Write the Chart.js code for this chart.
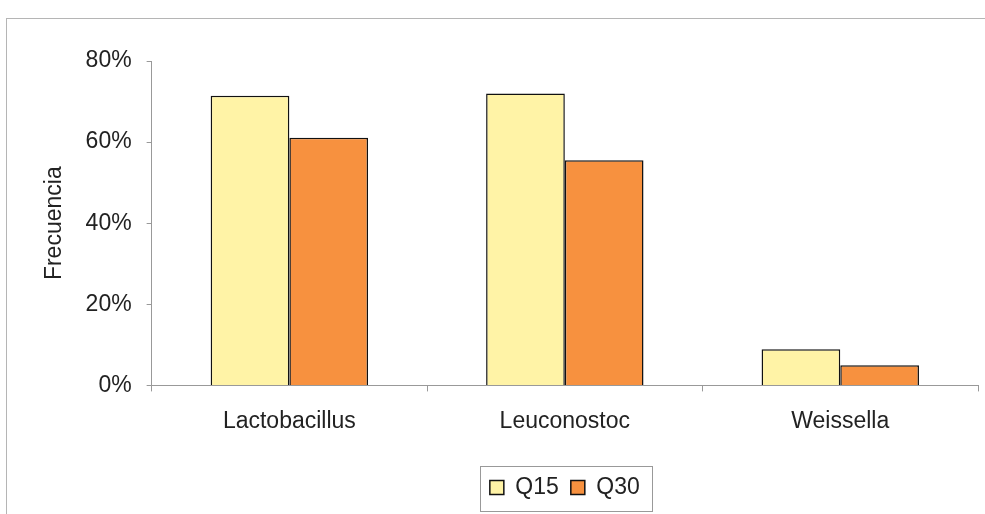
<!DOCTYPE html>
<html>
<head>
<meta charset="utf-8">
<script src="https://cdn.jsdelivr.net/npm/chart.js@4"></script>
<style>
  body { margin: 0; background: #fff; }
  #wrap { width: 985px; height: 514px; }
</style>
</head>
<body>
<div id="wrap"><canvas id="myChart" width="985" height="514"></canvas></div>
<script>
// data
const generos = ['Lactobacillus', 'Leuconostoc', 'Weissella'];
const q15 = [71.4, 72.0, 8.9];
const q30 = [61.1, 55.5, 5.0];
const yTicks = [0, 20, 40, 60, 80];

const txt = '#222';
const fuente = { family: 'Liberation Sans, Arial, sans-serif', size: 23 };

// outer frame of the chart object + box round the legend
const marcos = {
  id: 'marcos',
  beforeDraw(chart) {
    const c = chart.ctx;
    c.save();
    c.strokeStyle = '#b5b5b5';
    c.lineWidth = 1;
    c.strokeRect(6.5, 18.5, 1100, 600);
    c.restore();
  },
  afterDraw(chart) {
    const boxes = chart.legend.legendHitBoxes;
    if (!boxes || !boxes.length) return;
    let x0 = Infinity, x1 = -Infinity, y0 = Infinity, y1 = -Infinity;
    boxes.forEach(b => {
      x0 = Math.min(x0, b.left); x1 = Math.max(x1, b.left + b.width);
      y0 = Math.min(y0, b.top); y1 = Math.max(y1, b.top + b.height);
    });
    const c = chart.ctx;
    c.save();
    c.strokeStyle = '#999';
    c.lineWidth = 1;
    const cy = (y0 + y1) / 2;
    c.strokeRect(Math.round(x0 - 10) + 0.5, Math.round(cy - 22) + 0.5, Math.round(x1 - x0 + 22), 45);
    c.restore();
  }
};

const ctx = document.getElementById('myChart');
new Chart(ctx, {
  type: 'bar',
  data: {
    labels: generos,
    datasets: [
      { label: 'Q15', data: q15, backgroundColor: '#fff3a6', borderColor: '#111', borderWidth: 1.5 },
      { label: 'Q30', data: q30, backgroundColor: '#f7913f', borderColor: '#111', borderWidth: 1.5 }
    ]
  },
  options: {
    responsive: false,
    animation: false,
    categoryPercentage: 2 / 3.5,
    barPercentage: 1,
    layout: { padding: { left: 37, right: 7, top: 61, bottom: 5 } },
    plugins: {
      legend: {
        position: 'bottom',
        fullSize: false,
        labels: { color: txt, font: fuente, boxWidth: 14, boxHeight: 14, padding: 12 }
      },
      tooltip: { enabled: false }
    },
    scales: {
      x: {
        afterFit(s) { s.height += 13; },
        grid: { display: true, drawOnChartArea: false, color: '#999', tickLength: 6 },
        border: { color: '#999' },
        ticks: { color: txt, font: fuente, padding: 16 }
      },
      y: {
        min: 0,
        max: 80,
        afterBuildTicks(s) { s.ticks = yTicks.map(v => ({ value: v })); },
        grid: { display: true, drawOnChartArea: false, color: '#999', tickLength: 5 },
        border: { color: '#999' },
        ticks: { color: txt, font: fuente, padding: 15, callback: v => v + '%' },
        title: { display: true, text: 'Frecuencia', color: txt, font: fuente, padding: { top: 4, bottom: 2 } }
      }
    }
  },
  plugins: [marcos]
});
</script>
</body>
</html>
